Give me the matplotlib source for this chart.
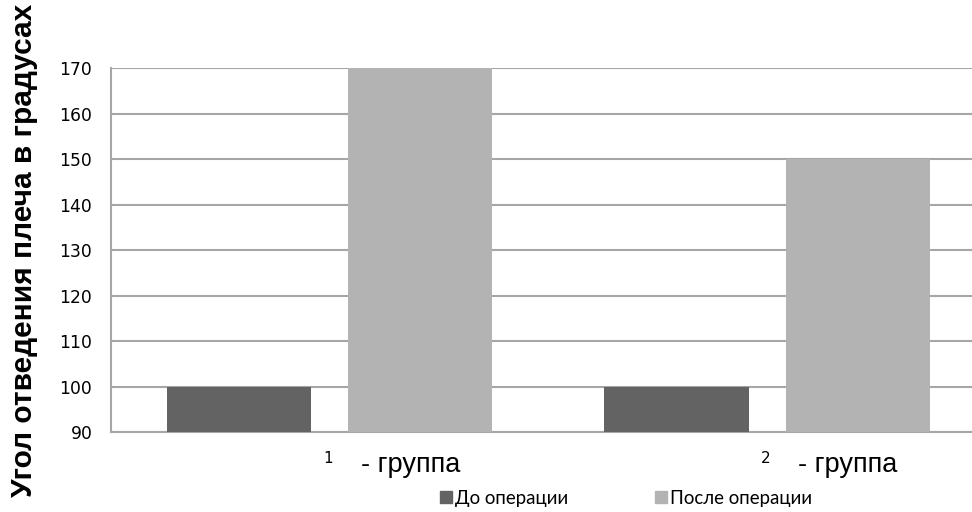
import numpy as np
import matplotlib.pyplot as plt
from matplotlib.lines import Line2D

# данные: угол отведения плеча по группам
groups = ['1', '2']
before = [100, 100]
after = [170, 150]
series_names = ['До операции', 'После операции']
yticks = [90, 100, 110, 120, 130, 140, 150, 160, 170]

dark = '#636363'
light = '#b3b3b3'
gridc = '#a6a6a6'

fig = plt.figure(figsize=(9.72, 5.12), dpi=100)
ax = fig.add_axes([0.1142, 0.156, 0.9002, 0.711])

x = np.arange(len(groups))
w = 0.33
off = 0.207
ax.bar(x - off, before, w, color=dark, zorder=3)
ax.bar(x + off, after, w, color=light, zorder=3)

ax.set_xlim(-0.5, 1.5)
ax.set_ylim(90, 170)
ax.set_yticks(yticks)
ax.set_yticklabels([str(v) for v in yticks], family='DejaVu Sans', fontsize=12.3)
ax.tick_params(axis='y', length=0, pad=13.5)
ax.set_xticks([])

ax.grid(axis='y', color=gridc, linewidth=1.5, zorder=0)
for s in ['top', 'right']:
    ax.spines[s].set_visible(False)
for s in ['left', 'bottom']:
    ax.spines[s].set_color(gridc)
    ax.spines[s].set_linewidth(1.5)

ax.set_ylabel('Угол отведения плеча в градусах', family='Liberation Sans',
              fontweight='bold', fontsize=21.5)
ax.yaxis.set_label_coords(-0.083, 0.5)

# подписи групп под осью
tr = ax.get_xaxis_transform()
for i, g in enumerate(groups):
    ax.text(x[i] - 0.004, -0.073, g, transform=tr, ha='center', va='center',
            family='DejaVu Sans', fontsize=11)
    ax.text(x[i] + 0.071, -0.09, '- группа', transform=tr, ha='left', va='center',
            family='Liberation Sans', fontsize=19.5)

handles = [Line2D([], [], marker='s', linestyle='none', markersize=8.5, color=dark),
           Line2D([], [], marker='s', linestyle='none', markersize=8.5, color=light)]
fig.legend(handles, series_names, loc='center', bbox_to_anchor=(0.6425, 0.027),
           ncol=2, frameon=False, prop={'family': 'Lato', 'size': 13.4},
           handletextpad=0.0, columnspacing=4.45, handlelength=1)

fig.savefig('out.png', dpi=100)
